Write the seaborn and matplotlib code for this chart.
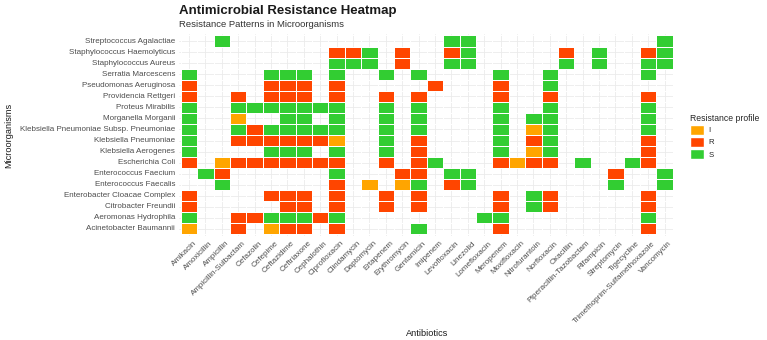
import pandas as pd
import seaborn as sns
import matplotlib.pyplot as plt
import matplotlib.transforms as mtransforms
from matplotlib.colors import ListedColormap
from matplotlib.patches import Patch

# Organisms, top row first (as shown in the chart)
organisms = [
    'Streptococcus Agalactiae', 'Staphylococcus Haemolyticus', 'Staphylococcus Aureus',
    'Serratia Marcescens', 'Pseudomonas Aeruginosa', 'Providencia Rettgeri',
    'Proteus Mirabilis', 'Morganella Morganii', 'Klebsiella Pneumoniae Subsp. Pneumoniae',
    'Klebsiella Pneumoniae', 'Klebsiella Aerogenes', 'Escherichia Coli',
    'Enterococcus Faecium', 'Enterococcus Faecalis', 'Enterobacter Cloacae Complex',
    'Citrobacter Freundii', 'Aeromonas Hydrophila', 'Acinetobacter Baumannii',
]

antibiotics = [
    'Amikacin', 'Amoxicillin', 'Ampicillin', 'Ampicillin-Sulbactam', 'Cefazolin',
    'Cefepime', 'Ceftazidime', 'Ceftriaxone', 'Cephalothin', 'Ciprofloxacin',
    'Clindamycin', 'Daptomycin', 'Ertapenem', 'Erythromycin', 'Gentamicin',
    'Imipenem', 'Levofloxacin', 'Linezolid', 'Lomefloxacin', 'Meropenem',
    'Moxifloxacin', 'Nitrofurantoin', 'Norfloxacin', 'Oxacillin', 'Piperacillin-Tazobactam',
    'Rifampicin', 'Streptomycin', 'Tigecycline', 'Trimethoprim-Sulfamethoxazole', 'Vancomycin',
]

# one string per organism, one char per antibiotic ('.' = not tested), grouped by 10
profiles = [
    '..S....... ......SS.. .........S',
    '.........R RS.R..RS.. ...R.S..RS',
    '.........S SS.R..SS.. ...S.S..SS',
    'S....SSS.S ..S.S....S ..S.....S.',
    'R....RRR.R .....R...R ..S.......',
    'R..R.RRR.R ..R.R....R ..R.....R.',
    'S..SSSSSSS ..S.S....S ..S.....S.',
    'S..I..SS.S ..S.S....S .SS.....S.',
    'S..SRSSSSS ..S.S....S .IS.....S.',
    'S..RRRRRRI ..S.R....S .RS.....R.',
    'S....SSS.S ..S.R....S .IS.....R.',
    'R.IRRRRRRR ..R.RS...R IRR.S..SR.',
    '.SR......S ...RR.SS.. ......R..S',
    '..S......R .I.IS.RS.. ......S..S',
    'R....RRR.R ..R.R....R .SR.....R.',
    'R.....RR.R ..R.R....R .SR.....R.',
    'S..RRSSSRS ........SS ........S.',
    'I..R.IRR.R ....S....R ........R.',
]

profile_levels = ['I', 'R', 'S']
profile_colors = ['#FFA500', '#FF4500', '#32CD32']

# Build long table then pivot to a grid
records = []
for org, prof in zip(organisms, profiles):
    for abx, code in zip(antibiotics, prof.replace(' ', '')):
        if code != '.':
            records.append((org, abx, code))
df = pd.DataFrame(records, columns=['Organism', 'Antibiotic', 'Profile'])
df['code'] = df['Profile'].map({k: i for i, k in enumerate(profile_levels)})
grid = df.pivot(index='Organism', columns='Antibiotic', values='code')
grid = grid.reindex(index=organisms, columns=antibiotics)

sns.set_theme(style='white')
plt.rcParams['font.family'] = ['Liberation Sans', 'DejaVu Sans']

fig = plt.figure(figsize=(7.67, 3.4), dpi=100)
ax = fig.add_axes([0.2336, 0.3071, 0.6456, 0.5918])

sns.heatmap(grid, ax=ax, cmap=ListedColormap(profile_colors), vmin=-0.5, vmax=2.5,
            cbar=False, linewidths=0.5, linecolor='white',
            xticklabels=True, yticklabels=True)

ax.set_xlim(-0.1, len(antibiotics) + 0.1)
ax.set_ylim(len(organisms) + 0.1, -0.1)
ax.set_axisbelow(True)
ax.grid(True, color='#EBEBEB', linewidth=0.6)
for s in ax.spines.values():
    s.set_visible(False)

ax.tick_params(length=0, labelsize=5.8, colors='#4D4D4D', pad=3)
shift = mtransforms.ScaledTranslation(4 / 100, 0, fig.dpi_scale_trans)
for lab in ax.get_xticklabels():
    lab.set_rotation(45)
    lab.set_ha('right')
    lab.set_rotation_mode('anchor')
    lab.set_transform(lab.get_transform() + shift)
plt.setp(ax.get_yticklabels(), rotation=0)
ax.set_xlabel('')
ax.set_ylabel('')

fig.text(0.2336, 0.968, 'Antimicrobial Resistance Heatmap', fontsize=9.5,
         fontweight='bold', color='#1A1A1A', va='center')
fig.text(0.2336, 0.927, 'Resistance Patterns in Microorganisms', fontsize=6.8,
         color='#333333', va='center')
fig.text(0.557, 0.02, 'Antibiotics', fontsize=6.6, color='#1A1A1A', ha='center', va='center')
fig.text(0.012, 0.603, 'Microorganisms', fontsize=6.6, color='#1A1A1A',
         rotation=90, ha='center', va='center')

handles = [Patch(facecolor=c, edgecolor='white', label=l)
           for l, c in zip(profile_levels, profile_colors)]
leg = fig.legend(handles=handles, title='Resistance profile', loc='upper left',
                 bbox_to_anchor=(0.891, 0.685), frameon=False, fontsize=5.6,
                 title_fontsize=6.2, handlelength=1.7, handleheight=1.7,
                 labelspacing=0.2, handletextpad=0.6, alignment='left')

fig.savefig('out.png', dpi=100)
